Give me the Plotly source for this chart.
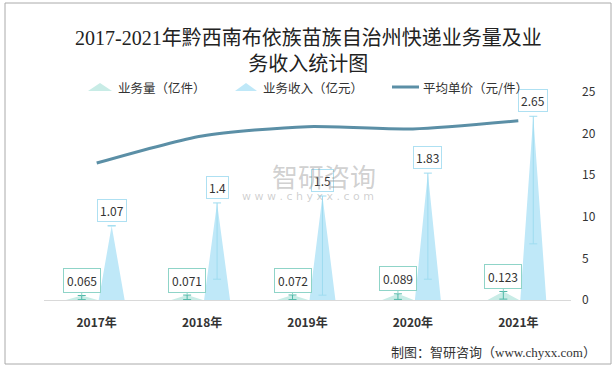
import plotly.graph_objects as go

years = ["2017年", "2018年", "2019年", "2020年", "2021年"]
volume = [0.065, 0.071, 0.072, 0.089, 0.123]          # 业务量（亿件）
revenue = [1.07, 1.4, 1.5, 1.83, 2.65]                 # 业务收入（亿元）
price = [16.46, 19.72, 20.83, 20.56, 21.54]            # 平均单价（元/件）
rev_whisker = [0.0, 1.10, 1.43, 1.53, 1.84]
vol_whisker = [0.06, 0.065, 0.066, 0.08, 0.11]

W, H = 616, 369
L, R, T, B = 44, 571, 92, 300
CJK = "Noto Sans CJK SC"

def px(x):
    return (x - L) / (R - L)

def py(y):
    return (B - y) / (B - T)

off = 0.142
vol_hw = 0.15
rev_hw = 0.123

def tri(values, shift, hw):
    xs, ys = [], []
    for i, v in enumerate(values):
        c = i + shift
        xs += [c - hw, c, c + hw, c - hw, None]
        ys += [0, v, 0, 0, None]
    return xs, ys

fig = go.Figure()

vx, vy = tri(volume, -off, vol_hw)
fig.add_trace(go.Scatter(x=vx, y=vy, fill="toself", mode="lines",
                         line=dict(width=0), fillcolor="#c8ece6",
                         hoverinfo="skip", showlegend=False))
rx, ry = tri(revenue, off, rev_hw)
fig.add_trace(go.Scatter(x=rx, y=ry, fill="toself", mode="lines",
                         line=dict(width=0), fillcolor="#bfe8f8",
                         hoverinfo="skip", showlegend=False))

xi = list(range(len(years)))
fig.add_trace(go.Scatter(
    x=[i + off for i in xi], y=revenue, mode="markers",
    marker=dict(size=1, color="rgba(0,0,0,0)"),
    error_y=dict(type="data", symmetric=False, array=[0] * 5,
                 arrayminus=rev_whisker, color="#9fdcf0", thickness=1, width=4),
    hoverinfo="skip", showlegend=False))
fig.add_trace(go.Scatter(
    x=[i - off for i in xi], y=volume, mode="markers",
    marker=dict(size=1, color="rgba(0,0,0,0)"),
    error_y=dict(type="data", symmetric=False, array=[0] * 5,
                 arrayminus=vol_whisker, color="#4fb8a8", thickness=1, width=4),
    hoverinfo="skip", showlegend=False))

fig.add_trace(go.Scatter(x=xi, y=price, mode="lines", yaxis="y2",
                         line=dict(color="#5b8fa6", width=3, shape="spline", smoothing=0.7),
                         hoverinfo="skip", showlegend=False))

annotations = []
for i in xi:
    annotations.append(dict(
        x=i + off, y=revenue[i], xref="x", yref="y", text=str(revenue[i]),
        showarrow=False, yanchor="bottom", yshift=4,
        font=dict(family=CJK, size=12, color="#333"),
        bgcolor="rgba(255,255,255,0.85)", bordercolor="#aee0f2", borderwidth=1, borderpad=2))
    annotations.append(dict(
        x=i - off, y=volume[i], xref="x", yref="y", text=str(volume[i]),
        showarrow=True, arrowhead=0, arrowwidth=1, arrowcolor="#8fd4c8",
        ax=0, ay=-15, standoff=0,
        font=dict(family=CJK, size=12, color="#333"),
        bgcolor="white", bordercolor="#8fd4c8", borderwidth=1, borderpad=3))

# title
annotations.append(dict(x=px(308), y=py(25), xref="paper", yref="paper",
                        text="2017-2021年黔西南布依族苗族自治州快递业务量及业<br>务收入统计图",
                        showarrow=False, align="center",
                        font=dict(family="Liberation Serif, " + CJK, size=20, color="#222")))
# legend texts
for x0, txt in [(116, "业务量（亿件）"), (261, "业务收入（亿元）"), (421, "平均单价（元/件）")]:
    annotations.append(dict(x=px(x0), y=py(87), xref="paper", yref="paper", text=txt,
                            showarrow=False, xanchor="left", yanchor="middle",
                            font=dict(family=CJK, size=12.5, color="#333")))
# watermark
annotations.append(dict(x=px(324), y=py(175), xref="paper", yref="paper", text="智研咨询",
                        showarrow=False, font=dict(family=CJK, size=26, color="rgba(150,150,150,0.45)")))
annotations.append(dict(x=px(308), y=py(196), xref="paper", yref="paper",
                        text="w w w . c h y x x . c o m",
                        showarrow=False, font=dict(family="DejaVu Sans", size=11, color="rgba(150,150,150,0.45)")))
# footer
annotations.append(dict(x=px(598), y=py(352), xref="paper", yref="paper",
                        text="制图：智研咨询（www.chyxx.com）", showarrow=False,
                        xanchor="right", yanchor="middle",
                        font=dict(family="Liberation Serif, " + CJK, size=13, color="#333")))

shapes = [
    dict(type="rect", xref="paper", yref="paper", x0=px(5), x1=px(611), y0=py(3), y1=py(364),
         line=dict(color="#aaaaaa", width=1)),
    dict(type="path", xref="paper", yref="paper",
         path=f"M {px(88)} {py(91)} L {px(100)} {py(83)} L {px(112)} {py(91)} Z",
         fillcolor="#c8ece6", line=dict(width=0)),
    dict(type="path", xref="paper", yref="paper",
         path=f"M {px(235)} {py(91)} L {px(246)} {py(83)} L {px(257)} {py(91)} Z",
         fillcolor="#bfe8f8", line=dict(width=0)),
    dict(type="line", xref="paper", yref="paper", x0=px(392), x1=px(419), y0=py(87), y1=py(87),
         line=dict(color="#5b8fa6", width=3)),
]

fig.update_layout(
    width=W, height=H,
    margin=dict(l=L, r=W - R, t=T, b=H - B),
    paper_bgcolor="white", plot_bgcolor="white",
    showlegend=False,
    xaxis=dict(range=[-0.5, 4.5], tickvals=xi, ticktext=years, showgrid=False,
               zeroline=False, showline=True, linecolor="#d9d9d9", linewidth=1,
               ticks="", ticklabelstandoff=12,
               tickfont=dict(family=CJK, size=12, color="#333", weight="bold")),
    yaxis=dict(range=[0, 3], visible=False, showgrid=False, zeroline=False),
    yaxis2=dict(range=[0, 25], overlaying="y", side="right", dtick=5, showgrid=False,
                zeroline=False, showline=False, ticks="", ticklabelstandoff=10,
                tickfont=dict(family=CJK, size=12, color="#333")),
    annotations=annotations,
    shapes=shapes,
)

fig.write_html("out.html", config={"displayModeBar": False},
               post_script="document.body.style.margin='0';document.body.style.overflow='hidden';")
